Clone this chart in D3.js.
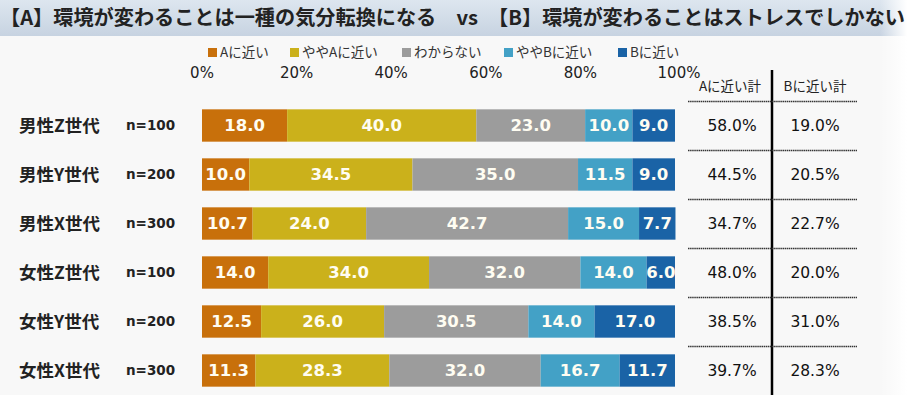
<!DOCTYPE html>
<html>
<head>
<meta charset="utf-8">
<script src="https://cdn.jsdelivr.net/npm/d3@7"></script>
<style>
  body { margin: 0; background: #fff; }
  svg { display: block; }
</style>
</head>
<body>
<svg id="chart" width="907" height="395"></svg>
<script>
const title = "【A】環境が変わることは一種の気分転換になる　vs　【B】環境が変わることはストレスでしかない"
const categories = ["Aに近い", "ややAに近い", "わからない", "ややBに近い", "Bに近い"]
const groups = ["男性Z世代", "男性Y世代", "男性X世代", "女性Z世代", "女性Y世代", "女性X世代"]
const sampleSizes = ["n=100", "n=200", "n=300", "n=100", "n=200", "n=300"]
const nearA = [18.0, 10.0, 10.7, 14.0, 12.5, 11.3]
const slightA = [40.0, 34.5, 24.0, 34.0, 26.0, 28.3]
const unknown = [23.0, 35.0, 42.7, 32.0, 30.5, 32.0]
const slightB = [10.0, 11.5, 15.0, 14.0, 14.0, 16.7]
const nearB = [9.0, 9.0, 7.7, 6.0, 17.0, 11.7]
const totalA = ["58.0%", "44.5%", "34.7%", "48.0%", "38.5%", "39.7%"]
const totalB = ["19.0%", "20.5%", "22.7%", "20.0%", "31.0%", "28.3%"]
const ticks = [0, 20, 40, 60, 80, 100]

const colors = ["#c8700b", "#cbb11b", "#9c9c9c", "#43a1c6", "#1a63a6"]

const svg = d3.select("#chart")
const series = [nearA, slightA, unknown, slightB, nearB]

const rows = groups.map((g, i) => {
    const r = { group: g }
    categories.forEach((c, k) => { r[c] = series[k][i] })
    return r
})

// backgrounds
const defs = svg.append("defs")
const tg = defs.append("linearGradient").attr("id", "tband").attr("x1", 0).attr("x2", 0).attr("y1", 0).attr("y2", 1)
tg.append("stop").attr("offset", "0%").attr("stop-color", "#dde6ef")
tg.append("stop").attr("offset", "100%").attr("stop-color", "#c7d3e1")
const fade = defs.append("linearGradient").attr("id", "fade")
fade.append("stop").attr("offset", "0%").attr("stop-color", "#fff").attr("stop-opacity", 0)
fade.append("stop").attr("offset", "100%").attr("stop-color", "#fff").attr("stop-opacity", 1)

svg.append("rect").attr("x", 0).attr("y", 0).attr("width", 907).attr("height", 395).attr("fill", "#f8f8f8")
svg.append("rect").attr("x", 0).attr("y", 0).attr("width", 907).attr("height", 36).attr("fill", "url(#tband)")
svg.append("rect").attr("x", 880).attr("y", 0).attr("width", 27).attr("height", 395).attr("fill", "url(#fade)")

svg.append("text")
    .attr("x", 0).attr("y", 25)
    .attr("font-family", "'Noto Sans CJK JP', sans-serif")
    .attr("font-weight", "bold")
    .attr("font-size", 20)
    .attr("fill", "#222")
    .attr("textLength", 905)
    .attr("lengthAdjust", "spacingAndGlyphs")
    .text(title)

// legend
const legendX = [208, 290, 402, 504, 618]
const legend = svg.append("g").selectAll("g")
    .data(categories)
    .join("g")
    .attr("transform", (d, i) => `translate(${legendX[i]},48)`)
legend.append("rect").attr("width", 9).attr("height", 9).attr("fill", (d, i) => colors[i])
legend.append("text")
    .attr("x", 12).attr("y", 9)
    .attr("font-family", "'Noto Sans CJK JP', sans-serif")
    .attr("font-size", 13.5)
    .attr("fill", "#333")
    .text(d => d)

const x = d3.scaleLinear().domain([0, 100]).range([202, 675])
const y = d3.scaleBand().domain(groups).range([101, 395]).paddingInner(0.34).paddingOuter(0.17)

// axis labels
svg.append("g").selectAll("text")
    .data(ticks)
    .join("text")
    .attr("x", d => x(d) + (d === 100 ? 4 : 0))
    .attr("y", 78)
    .attr("text-anchor", "middle")
    .attr("font-family", "'DejaVu Sans', sans-serif")
    .attr("font-size", 15)
    .attr("fill", "#222")
    .text(d => d + "%")

const stacked = d3.stack().keys(categories)(rows)

const layer = svg.append("g").selectAll("g")
    .data(stacked)
    .join("g")
    .attr("fill", (d, i) => colors[i])

layer.selectAll("rect")
    .data(d => d)
    .join("rect")
    .attr("x", d => x(d[0]))
    .attr("y", d => y(d.data.group))
    .attr("width", d => x(d[1]) - x(d[0]))
    .attr("height", y.bandwidth())

layer.selectAll("text")
    .data(d => d.map(v => ({ v, key: d.key })))
    .join("text")
    .attr("x", d => (x(d.v[0]) + x(d.v[1])) / 2)
    .attr("y", d => y(d.v.data.group) + y.bandwidth() / 2)
    .attr("dy", "0.36em")
    .attr("text-anchor", "middle")
    .attr("font-family", "'DejaVu Sans', sans-serif")
    .attr("font-weight", "bold")
    .attr("font-size", 16.5)
    .attr("fill", "#fffdf2")
    .text(d => d.v.data[d.key].toFixed(1))

// row labels
const rowLab = svg.append("g").selectAll("g")
    .data(groups)
    .join("g")
    .attr("transform", d => `translate(0,${y(d) + y.bandwidth() / 2})`)
rowLab.append("text")
    .attr("x", 19).attr("dy", "0.36em")
    .attr("font-family", "'Noto Sans CJK JP', sans-serif")
    .attr("font-weight", "bold")
    .attr("font-size", 17.5)
    .attr("fill", "#222")
    .text(d => d)
rowLab.append("text")
    .attr("x", 126).attr("dy", "0.36em")
    .attr("font-family", "'DejaVu Sans', sans-serif")
    .attr("font-weight", "bold")
    .attr("font-size", 13.5)
    .attr("fill", "#222")
    .text((d, i) => sampleSizes[i])

// side table
const table = svg.append("g")
table.append("line")
    .attr("x1", 772).attr("x2", 772).attr("y1", 70).attr("y2", 395)
    .attr("stroke", "#000").attr("stroke-width", 2.5)
const headY = 86
table.append("text").attr("x", 730).attr("y", headY).attr("dy", "0.36em")
    .attr("text-anchor", "middle")
    .attr("font-family", "'Noto Sans CJK JP', sans-serif")
    .attr("font-size", 13.5).attr("fill", "#222").text("Aに近い計")
table.append("text").attr("x", 815).attr("y", headY).attr("dy", "0.36em")
    .attr("text-anchor", "middle")
    .attr("font-family", "'Noto Sans CJK JP', sans-serif")
    .attr("font-size", 13.5).attr("fill", "#222").text("Bに近い計")

const step = y.step()
table.selectAll("line.sep")
    .data(groups)
    .join("line")
    .attr("class", "sep")
    .attr("x1", 688).attr("x2", 857)
    .attr("y1", d => y(d) - (step - y.bandwidth()) / 2 + 0.5)
    .attr("y2", d => y(d) - (step - y.bandwidth()) / 2 + 0.5)
    .attr("stroke", "#333").attr("stroke-width", 1.4)
    .attr("stroke-dasharray", "1.5,0.6")

const cellStyle = sel => sel
    .attr("dy", "0.36em")
    .attr("text-anchor", "middle")
    .attr("font-family", "'DejaVu Sans', sans-serif")
    .attr("font-size", 15.5)
    .attr("fill", "#111")

table.append("g").selectAll("text")
    .data(groups)
    .join("text")
    .attr("x", 732)
    .attr("y", d => y(d) + y.bandwidth() / 2)
    .call(cellStyle)
    .text((d, i) => totalA[i])

table.append("g").selectAll("text")
    .data(groups)
    .join("text")
    .attr("x", 815)
    .attr("y", d => y(d) + y.bandwidth() / 2)
    .call(cellStyle)
    .text((d, i) => totalB[i])
</script>
</body>
</html>
